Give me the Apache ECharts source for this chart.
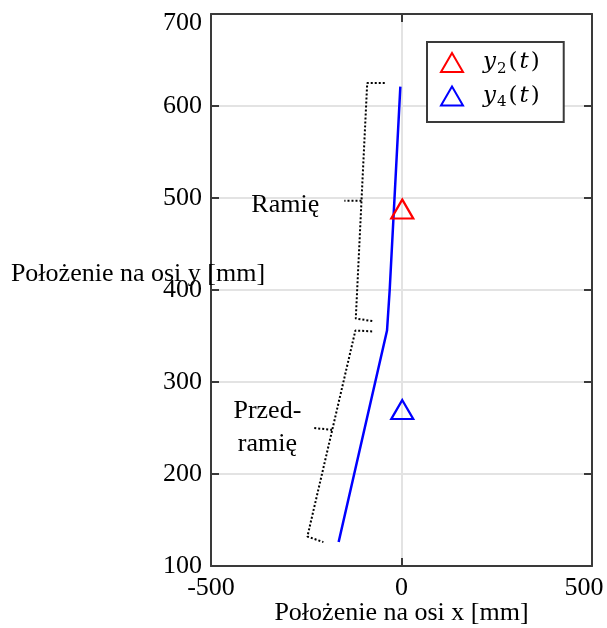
<!DOCTYPE html>
<html>
<head>
<meta charset="utf-8">
<script src="https://cdn.jsdelivr.net/npm/echarts@6/dist/echarts.min.js"></script>
<style>
  html, body { margin: 0; padding: 0; background: #fff; }
  #chart { width: 607px; height: 628px; }
</style>
</head>
<body>
<div id="chart"></div>
<script>
// Arm outline in the x-y plane [mm]: wrist -> elbow -> shoulder
const armPath = [[-165, 126], [-38, 356], [-31, 400], [-3, 621]];

// Marker positions [x, y] in mm
const y2Point = [[2, 488]];
const y4Point = [[2, 270]];

// Dotted braces marking the upper arm and the forearm ('-' breaks the polyline)
const upperBrace = [[-44, 625], [-90, 625], [-120, 369], [-73, 366], '-', [-105, 497], [-150, 497]];
const lowerBrace = [[-77, 355], [-121, 356], [-247, 132], [-205, 126], '-', [-182, 248], [-231, 250]];

// Brace captions, anchored at data coordinates
const captions = [
  { value: [-305, 492], text: 'Ramię' },
  { value: [-352, 250], text: 'Przed-\nramię' }
];

// Axis ranges and tick steps
const xRange = [-500, 500], xStep = 500;
const yRange = [100, 700], yStep = 100;

const serif = '"Liberation Serif", "Times New Roman", serif';
const mathSerif = '"DejaVu Serif", "Liberation Serif", serif';
const frameColor = '#3a3a3a';
const gridColor = '#e3e3e3';
const textColor = '#000';

const chart = echarts.init(document.getElementById('chart'), null, { renderer: 'canvas' });

const legendRich = {
  i: { fontFamily: mathSerif, fontStyle: 'italic', fontSize: 23, lineHeight: 28, color: textColor, padding: [0, 1] },
  n: { fontFamily: mathSerif, fontSize: 23, lineHeight: 28, color: textColor, padding: [0, 1] },
  s: { fontFamily: mathSerif, fontSize: 15, lineHeight: 17, verticalAlign: 'bottom', color: textColor, padding: [0, 1, 0, 0] }
};

const tickFont = { fontFamily: serif, fontSize: 26, color: textColor };

function frameAxis(extra) {
  return Object.assign({
    type: 'value',
    axisLine: { show: true, onZero: false, lineStyle: { color: frameColor, width: 2 } },
    axisTick: { show: true, inside: true, length: 8, lineStyle: { color: frameColor, width: 2 } },
    splitLine: { show: false },
    axisLabel: { show: false }
  }, extra);
}

chart.setOption({
  animation: false,
  backgroundColor: '#fff',
  grid: { left: 211, right: 15, top: 14, bottom: 62, containLabel: false, outerBoundsMode: 'none' },
  xAxis: [
    frameAxis({
      position: 'bottom', min: xRange[0], max: xRange[1], interval: xStep,
      name: 'Położenie na osi x [mm]', nameLocation: 'middle', nameGap: 34, nameMoveOverlap: false,
      nameTextStyle: { fontFamily: serif, fontSize: 26, color: textColor },
      axisLabel: Object.assign({
        show: true, margin: 9,
        // keep the last label inside the canvas edge
        formatter: v => (v === xRange[1] ? '{edge|' + v + '}' : String(v)),
        rich: { edge: Object.assign({ padding: [0, 16, 0, 0] }, tickFont) }
      }, tickFont),
      splitLine: { show: true, lineStyle: { color: gridColor, width: 2 } }
    }),
    frameAxis({ position: 'top', min: xRange[0], max: xRange[1], interval: xStep })
  ],
  yAxis: [
    frameAxis({
      position: 'left', min: yRange[0], max: yRange[1], interval: yStep,
      axisLabel: Object.assign({
        show: true, margin: 9,
        // keep the top label inside the canvas edge
        formatter: v => (v === yRange[1] ? '{edge|' + v + '}' : String(v)),
        rich: { edge: Object.assign({ padding: [18, 0, 0, 0] }, tickFont) }
      }, tickFont),
      splitLine: { show: true, lineStyle: { color: gridColor, width: 2 } }
    }),
    frameAxis({ position: 'right', min: yRange[0], max: yRange[1], interval: yStep })
  ],
  legend: {
    orient: 'vertical',
    left: 427, top: 42,
    padding: [9, 23, 12, 13],
    itemGap: 8,
    itemWidth: 22, itemHeight: 19,
    backgroundColor: '#fff',
    borderColor: frameColor, borderWidth: 2,
    data: ['y2(t)', 'y4(t)'],
    formatter: function (name) {
      const sub = name.charAt(1);
      return '{i|y}{s|' + sub + '}{n|(}{i|t}{n|)}';
    },
    textStyle: { rich: legendRich, padding: [0, 0, 0, 14] }
  },
  series: [
    {
      name: 'arm', type: 'line', data: armPath, showSymbol: false, symbol: 'none',
      lineStyle: { color: '#0000ff', width: 2.5 }, z: 3
    },
    {
      name: 'upperBrace', type: 'line', data: upperBrace, symbol: 'none', connectNulls: false,
      lineStyle: { color: '#000', width: 2, type: [2, 2] }, z: 2
    },
    {
      name: 'lowerBrace', type: 'line', data: lowerBrace, symbol: 'none', connectNulls: false,
      lineStyle: { color: '#000', width: 2, type: [2, 2] }, z: 2
    },
    {
      name: 'captions', type: 'scatter', symbolSize: 0, silent: true,
      itemStyle: { opacity: 1 },
      data: captions.map(c => ({ value: c.value, name: c.text })),
      label: {
        show: true, position: 'inside', formatter: p => p.name, opacity: 1,
        fontFamily: serif, fontSize: 26, lineHeight: 33, color: textColor, align: 'center'
      }
    },
    {
      name: 'y2(t)', type: 'scatter', data: y2Point, symbol: 'triangle', symbolSize: [22, 19],
      itemStyle: { color: 'rgba(0,0,0,0)', borderColor: '#ff0000', borderWidth: 2.2, opacity: 1 }, z: 4
    },
    {
      name: 'y4(t)', type: 'scatter', data: y4Point, symbol: 'triangle', symbolSize: [22, 19],
      itemStyle: { color: 'rgba(0,0,0,0)', borderColor: '#0000ff', borderWidth: 2.2, opacity: 1 }, z: 4
    }
  ],
  graphic: [
    {
      type: 'text', x: 138, y: 274, z: 100,
      style: {
        text: 'Położenie na osi y [mm]', fontFamily: serif, fontSize: 26, fill: textColor,
        align: 'center', verticalAlign: 'middle'
      }
    }
  ]
});
</script>
</body>
</html>
